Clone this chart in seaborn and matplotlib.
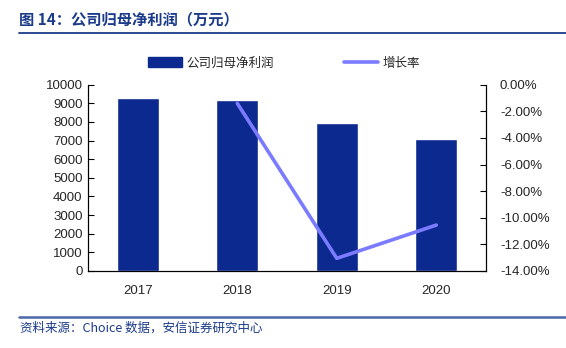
import matplotlib
matplotlib.use("Agg")
import matplotlib.pyplot as plt
import seaborn as sns
import pandas as pd
from matplotlib.lines import Line2D
from matplotlib.patches import Patch

years = ["2017", "2018", "2019", "2020"]
profit = [9280, 9160, 7920, 7080]
growth_years = ["2018", "2019", "2020"]
growth = [-1.4, -13.05, -10.55]

title = "图 14：公司归母净利润（万元）"
source = "资料来源：Choice 数据，安信证券研究中心"
bar_label = "公司归母净利润"
line_label = "增长率"

sns.set_theme(style="white")
plt.rcParams['font.family'] = ['Liberation Sans', 'Noto Sans CJK SC', 'DejaVu Sans']

bar_color = "#0c2990"
line_color = "#7b7bff"

fig = plt.figure(figsize=(5.66, 3.48), dpi=100)
ax = fig.add_axes([0.1555, 0.2213, 0.7032, 0.5353])

df = pd.DataFrame({"year": years, "profit": profit})
sns.barplot(data=df, x="year", y="profit", order=years, color=bar_color,
            width=0.42, saturation=1, ax=ax)

ax2 = ax.twinx()
gdf = pd.DataFrame({"year": growth_years, "growth": growth})
sns.pointplot(data=gdf, x="year", y="growth", order=years, color=line_color,
              markers="", linewidth=2.6, ax=ax2)

ax.set_xlim(-0.5, 3.5)
ax2.set_xlim(-0.5, 3.5)
ax.set_ylim(0, 10000)
ax.set_yticks(range(0, 10001, 1000))
ax2.set_ylim(-14, 0)
ax2.set_yticks(range(-14, 1, 2))
ax2.set_yticklabels([f"{v:.2f}%" for v in range(-14, 1, 2)])
ax.set_xlabel("")
ax.set_ylabel("")
ax2.set_xlabel("")
ax2.set_ylabel("")

for a in (ax, ax2):
    for s in a.spines.values():
        s.set_color("black")
        s.set_linewidth(0.8)
    a.spines["top"].set_visible(False)

ax.set_xticks(range(len(years)))
ax.set_xticklabels(years)
ax.set_xticks([0.5, 1.5, 2.5], minor=True)
ax.tick_params(axis="x", which="major", length=0, labelsize=9.5, pad=10)
ax.tick_params(axis="x", which="minor", length=4, direction="in", width=0.8, color="black")
ax.tick_params(axis="y", length=4, direction="in", width=0.8, labelsize=9.5, color="black", pad=4, left=True)
ax2.tick_params(axis="y", length=4, direction="in", width=0.8, labelsize=9.5, color="black", pad=10, right=True)
ax2.tick_params(axis="x", length=0)

# legend
handles = [Patch(facecolor=bar_color, edgecolor=bar_color),
           Line2D([0], [0], color=line_color, linewidth=2.6)]
fig.legend(handles, [bar_label, line_label], loc="center", bbox_to_anchor=(0.502, 0.818),
           ncol=2, frameon=False, fontsize=9, handlelength=2.7, handleheight=0.9,
           columnspacing=5.6, handletextpad=0.4)

# title and rules
fig.text(0.034, 0.945, title, fontsize=11, fontweight="bold", color="#1a3a8a",
         va="center", ha="left", family=['Noto Sans CJK SC', 'DejaVu Sans'])
fig.add_artist(Line2D([0.034, 1.0], [0.905, 0.905], color="#1a3a8a", linewidth=1.3))
fig.add_artist(Line2D([0.034, 1.0], [0.09, 0.09], color="#4a68a8", linewidth=1.8))
fig.text(0.036, 0.058, source, fontsize=9, style="italic", color="#1a3a8a",
         va="center", ha="left", family=['Noto Sans CJK SC', 'DejaVu Sans'])

fig.savefig("out.png", dpi=100)
